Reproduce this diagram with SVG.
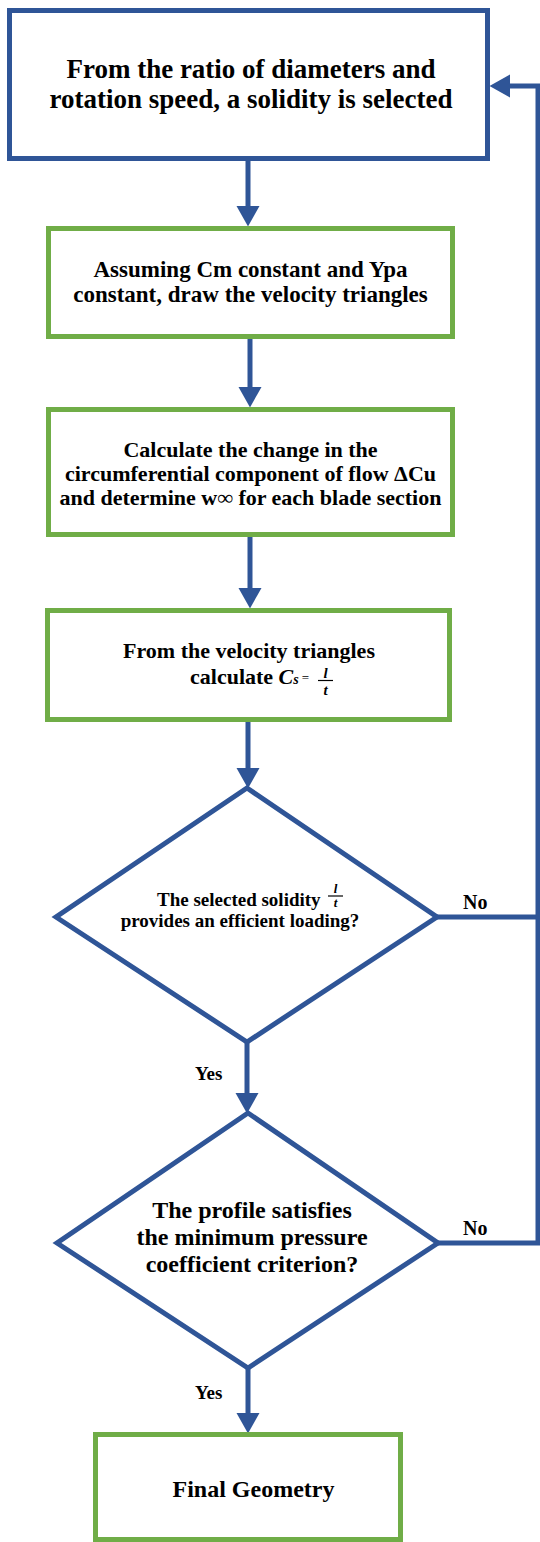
<svg xmlns="http://www.w3.org/2000/svg" width="540" height="1542" viewBox="0 0 540 1542">
<defs>
<style>
.box{fill:#ffffff;stroke-width:5}
.blue{stroke:#2F5597}
.green{stroke:#70AD47}
.t{font-family:"Liberation Serif","Times New Roman",serif;font-weight:bold;fill:#000000}
.c{text-anchor:middle}
.conn{fill:none;stroke:#2F5597;stroke-width:5}
</style>
<marker id="ah" markerUnits="userSpaceOnUse" markerWidth="21" markerHeight="24" viewBox="0 0 21 24" refX="0" refY="12" orient="auto">
<path d="M0,0.5 L20.5,12 L0,23.5 z" fill="#2F5597"/>
</marker>
</defs>
<rect width="540" height="1542" fill="#ffffff"/>

<g id="connectors">
<path class="conn" d="M248,158 V206" marker-end="url(#ah)"/>
<path class="conn" d="M250,337 V387" marker-end="url(#ah)"/>
<path class="conn" d="M250,535 V588" marker-end="url(#ah)"/>
<path class="conn" d="M248,720 V768" marker-end="url(#ah)"/>
<path class="conn" d="M247,1042 V1093" marker-end="url(#ah)"/>
<path class="conn" d="M248,1368 V1413" marker-end="url(#ah)"/>
<path class="conn" d="M437,917 H538"/>
<path class="conn" d="M438,1243 H538 V86 H510" marker-end="url(#ah)"/>
<text class="t" x="463" y="909" font-size="20">No</text>
<text class="t" x="463" y="1235" font-size="20">No</text>
<text class="t" x="195" y="1080" font-size="19">Yes</text>
<text class="t" x="195" y="1399" font-size="19">Yes</text>
</g>

<g id="node-select-solidity">
<rect class="box blue" x="9.5" y="10.5" width="478" height="148"/>
<text class="t c" font-size="27"><tspan x="251" y="78">From the ratio of diameters and</tspan><tspan x="251" y="108">rotation speed, a solidity is selected</tspan></text>
</g>

<g id="node-velocity-triangles">
<rect class="box green" x="48.5" y="228.5" width="404" height="108"/>
<text class="t c" font-size="23"><tspan x="250.5" y="277">Assuming Cm constant and Ypa</tspan><tspan x="250.5" y="302">constant, draw the velocity triangles</tspan></text>
</g>

<g id="node-delta-cu">
<rect class="box green" x="48.5" y="409.5" width="404" height="125"/>
<text class="t c" font-size="22"><tspan x="250.5" y="457">Calculate the change in the</tspan><tspan x="250.5" y="481">circumferential component of flow ΔCu</tspan><tspan x="250.5" y="505">and determine w∞ for each blade section</tspan></text>
</g>

<g id="node-calc-cs">
<rect class="box green" x="47.5" y="610.5" width="402" height="109"/>
<text class="t" font-size="22"><tspan x="249" y="658" text-anchor="middle">From the velocity triangles</tspan><tspan x="190" y="684">calculate </tspan><tspan font-style="italic">C</tspan><tspan font-style="italic" font-size="14">s</tspan><tspan font-size="13" font-weight="normal" dx="3" dy="-2">=</tspan></text>
<text class="t c" x="325.5" y="678" font-size="15" font-style="italic">l</text>
<line x1="318" y1="680.5" x2="333" y2="680.5" stroke="#000000" stroke-width="1.2"/>
<text class="t c" x="325.5" y="695" font-size="15" font-style="italic">t</text>
</g>

<g id="node-efficient-loading">
<polygon class="box blue" points="247,788 437,917 247,1042 56,917"/>
<text class="t" x="157" y="906" font-size="19">The selected solidity</text>
<text class="t c" x="335.5" y="892.5" font-size="13" font-style="italic">l</text>
<line x1="328" y1="896" x2="343" y2="896" stroke="#000000" stroke-width="1.2"/>
<text class="t c" x="335.5" y="907" font-size="13" font-style="italic">t</text>
<text class="t c" x="240" y="927" font-size="19">provides an efficient loading?</text>
</g>

<g id="node-pressure-criterion">
<polygon class="box blue" points="248,1113 438,1243 248,1368 57,1243"/>
<text class="t c" font-size="24"><tspan x="252" y="1218">The profile satisfies</tspan><tspan x="252" y="1245">the minimum pressure</tspan><tspan x="252" y="1272">coefficient criterion?</tspan></text>
</g>

<g id="node-final-geometry">
<rect class="box green" x="95.5" y="1434.5" width="305" height="105"/>
<text class="t c" x="253.5" y="1497" font-size="24">Final Geometry</text>
</g>
</svg>
